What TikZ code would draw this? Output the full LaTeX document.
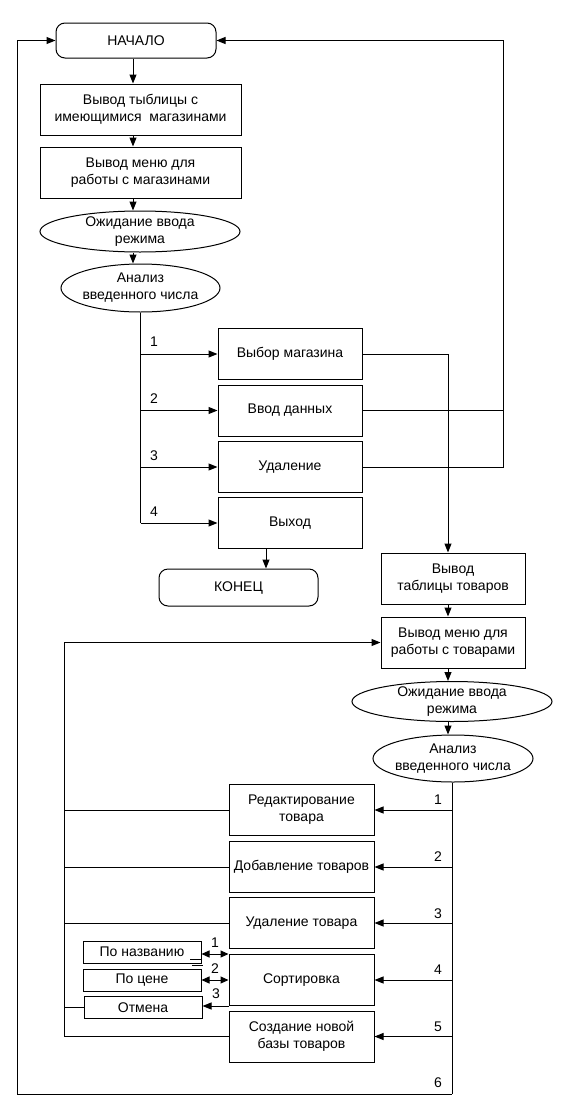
\documentclass[tikz,border=0pt]{standalone}
\usepackage{fontspec}
\setmainfont{Liberation Sans}
\usetikzlibrary{arrows.meta, shapes.geometric, calc}

\begin{document}
\begin{tikzpicture}[x=1pt, y=-1pt, line width=1pt,
        every node/.style={font=\fontsize{14}{17}\selectfont},
        blok/.style={draw, rectangle, minimum width=144pt, minimum height=51pt, inner sep=0pt, align=center},
        oval/.style={draw, ellipse, inner sep=-4pt, align=center},
        term/.style={draw, rounded corners=9pt, inner sep=0pt},
        mini/.style={draw, minimum width=118pt, minimum height=22pt, inner sep=0pt},
        num/.style={inner sep=0pt},
        arr/.style={-{Triangle[length=9pt,width=7pt]}},
        darr/.style={{Triangle[length=8pt,width=7pt]}-{Triangle[length=8pt,width=7pt]}}]

        \useasboundingbox (0,0) rectangle (560,1119);

        % shops
        \node[term, minimum width=160pt, minimum height=35pt] (nach) at (136,40.5) {НАЧАЛО};
        \node[blok, minimum width=201pt] (tabm) at (140.5,109.5) {Вывод тыблицы с\\имеющимися\ \ магазинами};
        \node[blok, minimum width=201pt] (menum) at (140.5,172.5) {Вывод меню для\\работы с магазинами};
        \node[oval, minimum width=200pt, minimum height=41pt] (waitm) at (140,231.5) {Ожидание ввода\\режима};
        \node[oval, minimum width=159pt, minimum height=48pt] (analm) at (140.5,288) {Анализ\\введенного числа};

        \node[blok] (vyb) at (290,354) {Выбор магазина};
        \node[blok] (vvod) at (290,410.5) {Ввод данных};
        \node[blok] (udal) at (290,467) {Удаление};
        \node[blok] (vyh) at (290,523) {Выход};
        \node[term, minimum width=159pt, minimum height=37pt] (kon) at (238.5,587.5) {КОНЕЦ};

        \node[num] (m1) at (154,342) {1};
        \node[num] (m2) at (154,399) {2};
        \node[num] (m3) at (154,456) {3};
        \node[num] (m4) at (154,512) {4};

        % goods
        \node[blok] (tabt) at (453,578.5) {Вывод\\таблицы товаров};
        \node[blok] (menut) at (453,642.5) {Вывод меню для\\работы с товарами};
        \node[oval, minimum width=200pt, minimum height=40pt] (waitt) at (452,701.5) {Ожидание ввода\\режима};
        \node[oval, minimum width=160pt, minimum height=47pt] (analt) at (453,758.5) {Анализ\\введенного числа};

        \node[blok, minimum width=145pt] (red) at (301.5,810) {Редактирование\\товара};
        \node[blok, minimum width=145pt] (dob) at (301.5,867) {Добавление товаров};
        \node[blok, minimum width=145pt] (udt) at (301.5,923) {Удаление товара};
        \node[blok, minimum width=145pt] (sort) at (301.5,980) {Сортировка};
        \node[blok, minimum width=145pt] (soz) at (301.5,1036.5) {Создание новой\\базы товаров};

        \node[mini] (pn) at (142,952) {По названию};
        \node[mini] (pc) at (142,980) {По цене};
        \node[mini] (otm) at (143,1007.5) {Отмена};

        \node[num] (t1) at (438,800) {1};
        \node[num] (t2) at (438,857) {2};
        \node[num] (t3) at (438,914) {3};
        \node[num] (t4) at (438,970) {4};
        \node[num] (t5) at (438,1027) {5};
        \node[num] (t6) at (438,1083) {6};

        \node[num] (s1) at (215,943) {1};
        \node[num] (s2) at (215,969) {2};
        \node[num] (s3) at (216,994) {3};

        \coordinate (ax) at (133,0);
        \coordinate (bx) at (266,0);
        \coordinate (col) at (448,0);
        \coordinate (lt) at (64,0);
        \coordinate (rtop) at (503,40.5);
        \coordinate (rb) at (452,1094);
        \coordinate (lb) at (17,1094);

        \draw[arr] (nach.south -| ax) -- (tabm.north -| ax);
        \draw[arr] (tabm.south -| ax) -- (menum.north -| ax);
        \draw[arr] (menum.south -| ax) -- (waitm.north -| ax);
        \draw[arr] (waitm.south -| ax) -- (analm.north -| ax);

        \draw (analm.south) -- (analm.south |- vyh.west);
        \draw[arr] (analm.south |- vyb.west) -- (vyb.west);
        \draw[arr] (analm.south |- vvod.west) -- (vvod.west);
        \draw[arr] (analm.south |- udal.west) -- (udal.west);
        \draw[arr] (analm.south |- vyh.west) -- (vyh.west);
        \draw[arr] (vyh.south -| bx) -- (kon.north -| bx);

        \draw[arr] (vyb.east) -| (tabt.north -| col);
        \draw[arr] (udal.east) -| (rtop) -- (nach.east);
        \draw (vvod.east) -- (vvod.east -| rtop);

        \draw[arr] (tabt.south -| col) -- (menut.north -| col);
        \draw[arr] (menut.south -| col) -- (waitt.north -| col);
        \draw[arr] (waitt.south -| col) -- (analt.north -| col);

        \draw (analt.south -| rb) -- (rb);
        \draw[arr] (rb) -- (lb) |- (nach.west);
        \draw[arr] (red.east -| rb) -- (red.east);
        \draw[arr] (dob.east -| rb) -- (dob.east);
        \draw[arr] (udt.east -| rb) -- (udt.east);
        \draw[arr] (sort.east -| rb) -- (sort.east);
        \draw[arr] (soz.east -| rb) -- (soz.east);

        \draw[arr] (soz.west) -| (lt |- menut.west) -- (menut.west);
        \draw (red.west) -- (red.west -| lt);
        \draw (dob.west) -- (dob.west -| lt);
        \draw (udt.west) -- (udt.west -| lt);
        \draw (otm.west) -- (otm.west -| lt);

        \draw[darr] (sort.north west) -- (sort.north west -| pn.east);
        \draw[darr] (sort.west) -- (pc.east);
        \draw[arr] (sort.south west) -- (sort.south west -| otm.east);

        % small strokes by the first sort box
        \draw[line width=0.6pt] (190,959) -- (201,959);
        \draw[line width=0.6pt] (192,965) -- (203,965);
    \end{tikzpicture}
\end{document}
